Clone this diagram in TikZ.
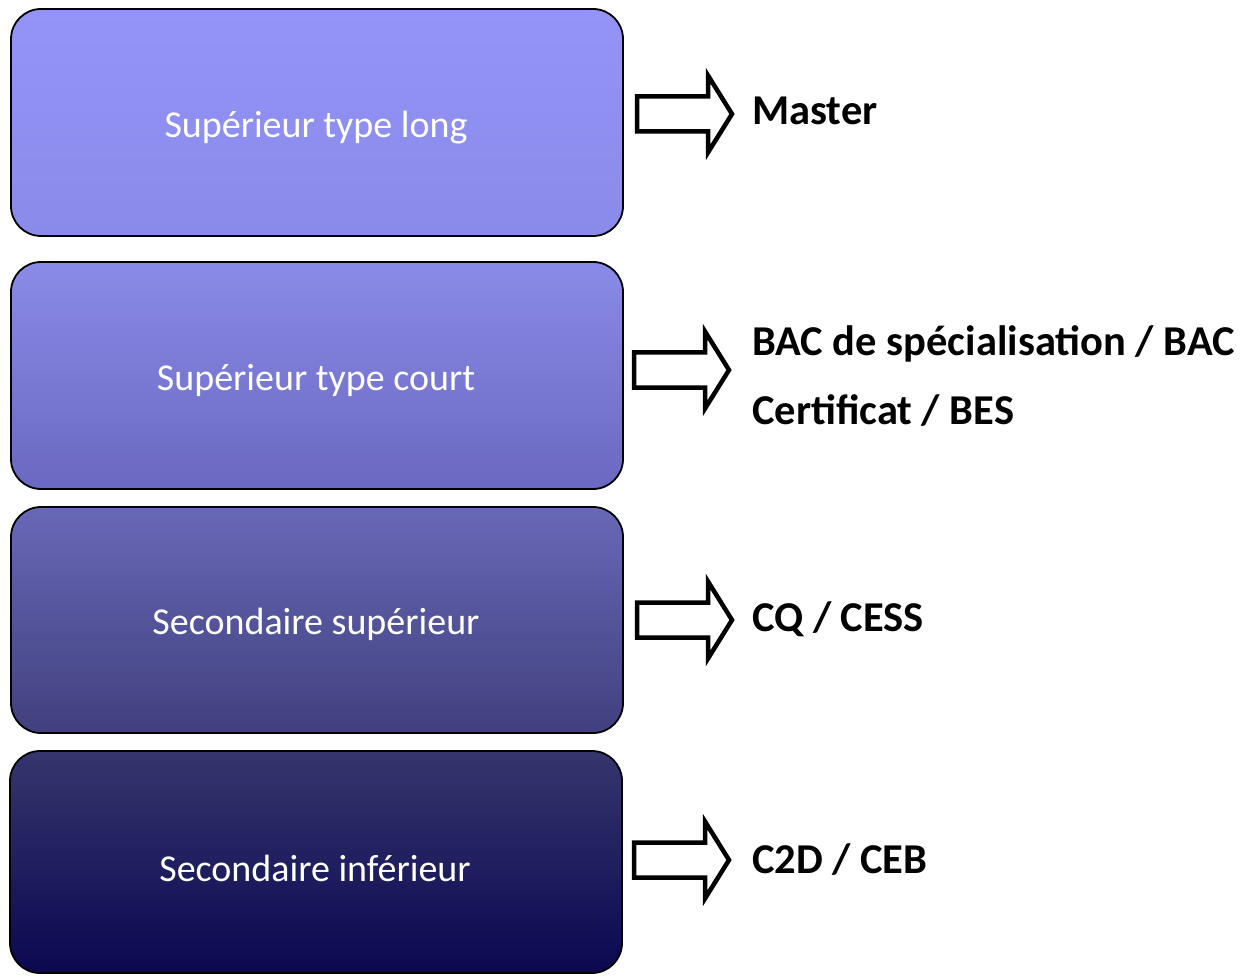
\documentclass[tikz,border=0pt]{standalone}
\usepackage{fontspec}
\setmainfont{Carlito}
\begin{document}
\begin{tikzpicture}[x=1pt,y=-1pt,
  level/.style={draw=black, line width=1.8pt, rounded corners=30pt},
  leveltext/.style={text=white, font=\fontsize{38}{44}\selectfont, anchor=center},
  grade/.style={text=black, font=\bfseries\fontsize{42.5}{48}\selectfont, anchor=west, inner sep=0pt},
  blockarrow/.pic={\draw[line width=4.5pt, line join=miter, fill=white]
      (0,-17.5) -- (71,-17.5) -- (71,-38.5) -- (95,0) -- (71,38.5) -- (71,17.5) -- (0,17.5) -- cycle;}]
\useasboundingbox (0,0) rectangle (1248,976);
\definecolor{c1t}{HTML}{9494F8}\definecolor{c1b}{HTML}{8A8AEA}
\definecolor{c2t}{HTML}{8A8AE8}\definecolor{c2b}{HTML}{6A68C0}
\definecolor{c3t}{HTML}{6868B8}\definecolor{c3b}{HTML}{40407E}
\definecolor{c4t}{HTML}{36366E}\definecolor{c4b}{HTML}{0A0850}
\draw[level, top color=c1t, bottom color=c1b] (11,9) rectangle (623,236);
\draw[level, top color=c2t, bottom color=c2b] (11,262) rectangle (623,489);
\draw[level, top color=c3t, bottom color=c3b] (11,507) rectangle (623,733);
\draw[level, top color=c4t, bottom color=c4b] (10,751) rectangle (622,973);
\node[leveltext] (l1) at (316,128) {Supérieur type long};
\node[leveltext] (l2) at (316,380) {Supérieur type court};
\node[leveltext] (l3) at (316,624) {Secondaire supérieur};
\node[leveltext] (l4) at (315,868) {Secondaire inférieur};
\pic at (637,114) {blockarrow};
\pic at (634,370) {blockarrow};
\pic at (637,620) {blockarrow};
\pic at (634,860) {blockarrow};
\node[grade] (g1) at (752,111) {Master};
\node[grade] (g2a) at (752,344) {BAC de spécialisation / BAC};
\node[grade] (g2b) at (752,411) {Certificat / BES};
\node[grade] (g3) at (752,619) {CQ / CESS};
\node[grade] (g4) at (752,860) {C2D / CEB};
\end{tikzpicture}
\end{document}
